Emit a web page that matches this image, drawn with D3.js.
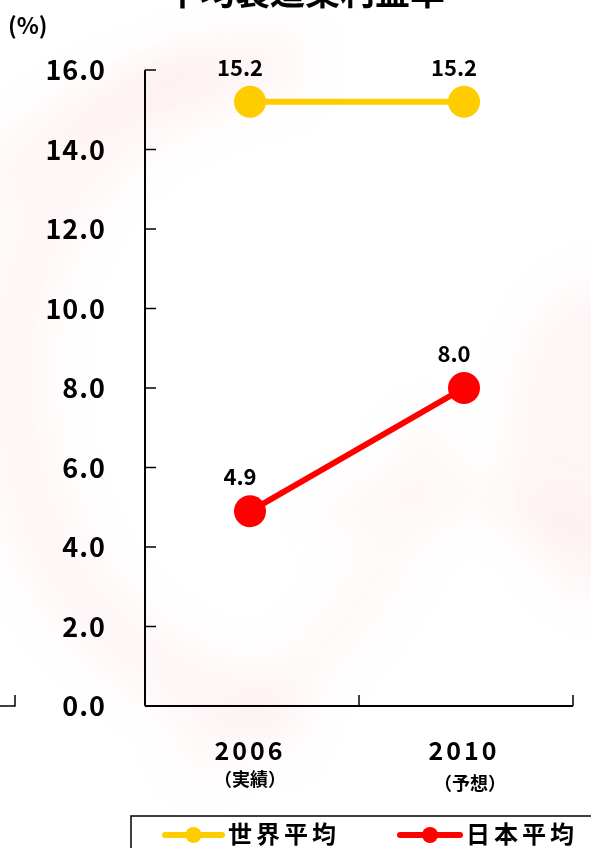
<!DOCTYPE html>
<html>
<head>
<meta charset="utf-8">
<script src="https://cdn.jsdelivr.net/npm/d3@7"></script>
<style>
  html, body { margin: 0; padding: 0; background: #fff; }
  svg { display: block; }
  text { font-family: "Noto Sans CJK JP", "Noto Sans", sans-serif; font-weight: 700; fill: #000; }
</style>
</head>
<body>
<script>
// Operating margin (%) — world average vs. Japan average
const categories = ["2006", "2010"];
const categoryNotes = ["（実績）", "（予想）"];
const seriesNames = ["世界平均", "日本平均"];
const worldValues = [15.2, 15.2];
const japanValues = [4.9, 8.0];
const yTicks = [0, 2, 4, 6, 8, 10, 12, 14, 16];
const titleText = "平均製造業利益率";
const unitLabel = "(%)";

const W = 591, H = 848;
const svg = d3.select("body").append("svg").attr("width", W).attr("height", H);
const defs = svg.append("defs");

// faint pink swirl backdrop
const blur = defs.append("filter").attr("id", "soft").attr("x", "-50%").attr("y", "-50%").attr("width", "200%").attr("height", "200%");
blur.append("feGaussianBlur").attr("stdDeviation", 22);
const bg = svg.append("g").attr("filter", "url(#soft)");
bg.append("path")
  .attr("d", "M 300 60 C 60 80 -40 300 40 520 C 90 650 200 700 300 720")
  .attr("fill", "none").attr("stroke", "#f5b5b5").attr("stroke-width", 70).attr("opacity", 0.12);
bg.append("path")
  .attr("d", "M -20 200 C 40 120 120 80 220 70")
  .attr("fill", "none").attr("stroke", "#f3a0a0").attr("stroke-width", 40).attr("opacity", 0.1);
bg.append("path")
  .attr("d", "M 180 760 C 300 700 420 560 430 420")
  .attr("fill", "none").attr("stroke", "#f5c0c0").attr("stroke-width", 50).attr("opacity", 0.09);
bg.append("ellipse")
  .attr("cx", 600).attr("cy", 440).attr("rx", 90).attr("ry", 160)
  .attr("fill", "#f3b0b0").attr("opacity", 0.12);
bg.append("path")
  .attr("d", "M 320 520 C 420 470 520 500 600 540")
  .attr("fill", "none").attr("stroke", "#f7c8c8").attr("stroke-width", 40).attr("opacity", 0.1);

// title (top edge)
svg.append("text")
  .attr("x", 305).attr("y", 5)
  .attr("text-anchor", "middle")
  .attr("font-size", 35)
  .attr("font-weight", 900)
  .text(titleText);

// unit label
svg.append("text")
  .attr("x", 8).attr("y", 34)
  .attr("font-size", 23)
  .attr("font-weight", 900)
  .text(unitLabel);

// scales
const x = d3.scaleBand().domain(categories).range([145, 573]);
const y = d3.scaleLinear().domain([0, 16]).range([706, 70]);
const cx = d => x(d) + x.bandwidth() / 2 - 2;

// y axis: line, inward ticks, labels
const yAxis = svg.append("g");
yAxis.append("line")
  .attr("x1", 145).attr("x2", 145).attr("y1", y(16)).attr("y2", y(0))
  .attr("stroke", "#000").attr("stroke-width", 2);
yAxis.selectAll("line.tick").data(yTicks).join("line")
  .attr("class", "tick")
  .attr("x1", 145).attr("x2", 156)
  .attr("y1", d => y(d)).attr("y2", d => y(d))
  .attr("stroke", "#000").attr("stroke-width", 1.5);
yAxis.selectAll("text").data(yTicks).join("text")
  .attr("x", 106).attr("y", d => y(d) + 10)
  .attr("text-anchor", "end")
  .attr("font-size", 27)
  .attr("letter-spacing", 1)
  .text(d => d.toFixed(1));

// x axis: line and upward ticks at band edges
const xAxis = svg.append("g");
xAxis.append("line")
  .attr("x1", 145).attr("x2", 573).attr("y1", y(0)).attr("y2", y(0))
  .attr("stroke", "#000").attr("stroke-width", 2);
const edges = [x(categories[0]) + x.bandwidth(), x(categories[1]) + x.bandwidth()];
xAxis.selectAll("line.tick").data(edges).join("line")
  .attr("class", "tick")
  .attr("x1", d => d).attr("x2", d => d)
  .attr("y1", y(0)).attr("y2", y(0) - 11)
  .attr("stroke", "#000").attr("stroke-width", 1.5);
xAxis.selectAll("text.year").data(categories).join("text")
  .attr("class", "year")
  .attr("x", d => cx(d)).attr("y", 760)
  .attr("text-anchor", "middle")
  .attr("font-size", 25)
  .attr("letter-spacing", 3)
  .text(d => d);
xAxis.selectAll("text.note").data(categories).join("text")
  .attr("class", "note")
  .attr("x", (d, i) => cx(d) + (i === 1 ? 6 : 0)).attr("y", 786)
  .attr("dy", (d, i) => i === 1 ? 4 : 0)
  .attr("text-anchor", "middle")
  .attr("font-size", 18)
  .attr("font-weight", 900)
  .text((d, i) => categoryNotes[i]);

// fragment of the neighbouring panel's axis corner
svg.append("path")
  .attr("d", "M0," + y(0) + "H15V" + (y(0) - 11))
  .attr("fill", "none").attr("stroke", "#000").attr("stroke-width", 1.5);

// series
const series = [
  { name: seriesNames[0], values: worldValues, color: "#FFCC00" },
  { name: seriesNames[1], values: japanValues, color: "#FF0000" }
];
const line = d3.line().x(d => cx(d.cat)).y(d => y(d.v));
series.forEach(s => {
  const pts = categories.map((c, i) => ({ cat: c, v: s.values[i] }));
  const g = svg.append("g");
  g.append("path").attr("d", line(pts))
    .attr("fill", "none").attr("stroke", s.color).attr("stroke-width", 6);
  g.selectAll("circle").data(pts).join("circle")
    .attr("cx", d => cx(d.cat)).attr("cy", d => y(d.v)).attr("r", 16)
    .attr("fill", s.color);
  g.selectAll("text").data(pts).join("text")
    .attr("x", d => cx(d.cat) - 10).attr("y", d => y(d.v) - 26)
    .attr("text-anchor", "middle")
    .attr("font-size", 22)
    .text(d => d.v.toFixed(1));
});

// legend
const lg = svg.append("g");
lg.append("rect")
  .attr("x", 131).attr("y", 816).attr("width", 480).attr("height", 60)
  .attr("fill", "#fff").attr("stroke", "#000").attr("stroke-width", 1.5);
const legendItems = [
  { x0: 165, x1: 222, tx: 228, s: series[0] },
  { x0: 400, x1: 460, tx: 466, s: series[1] }
];
legendItems.forEach(it => {
  lg.append("line").attr("x1", it.x0).attr("x2", it.x1).attr("y1", 835).attr("y2", 835)
    .attr("stroke", it.s.color).attr("stroke-width", 6).attr("stroke-linecap", "round");
  lg.append("circle").attr("cx", (it.x0 + it.x1) / 2).attr("cy", 835).attr("r", 8)
    .attr("fill", it.s.color);
  lg.append("text").attr("x", it.tx).attr("y", 843)
    .attr("font-size", 24).attr("letter-spacing", 4)
    .attr("font-weight", 900)
    .text(it.s.name);
});
</script>
</body>
</html>
